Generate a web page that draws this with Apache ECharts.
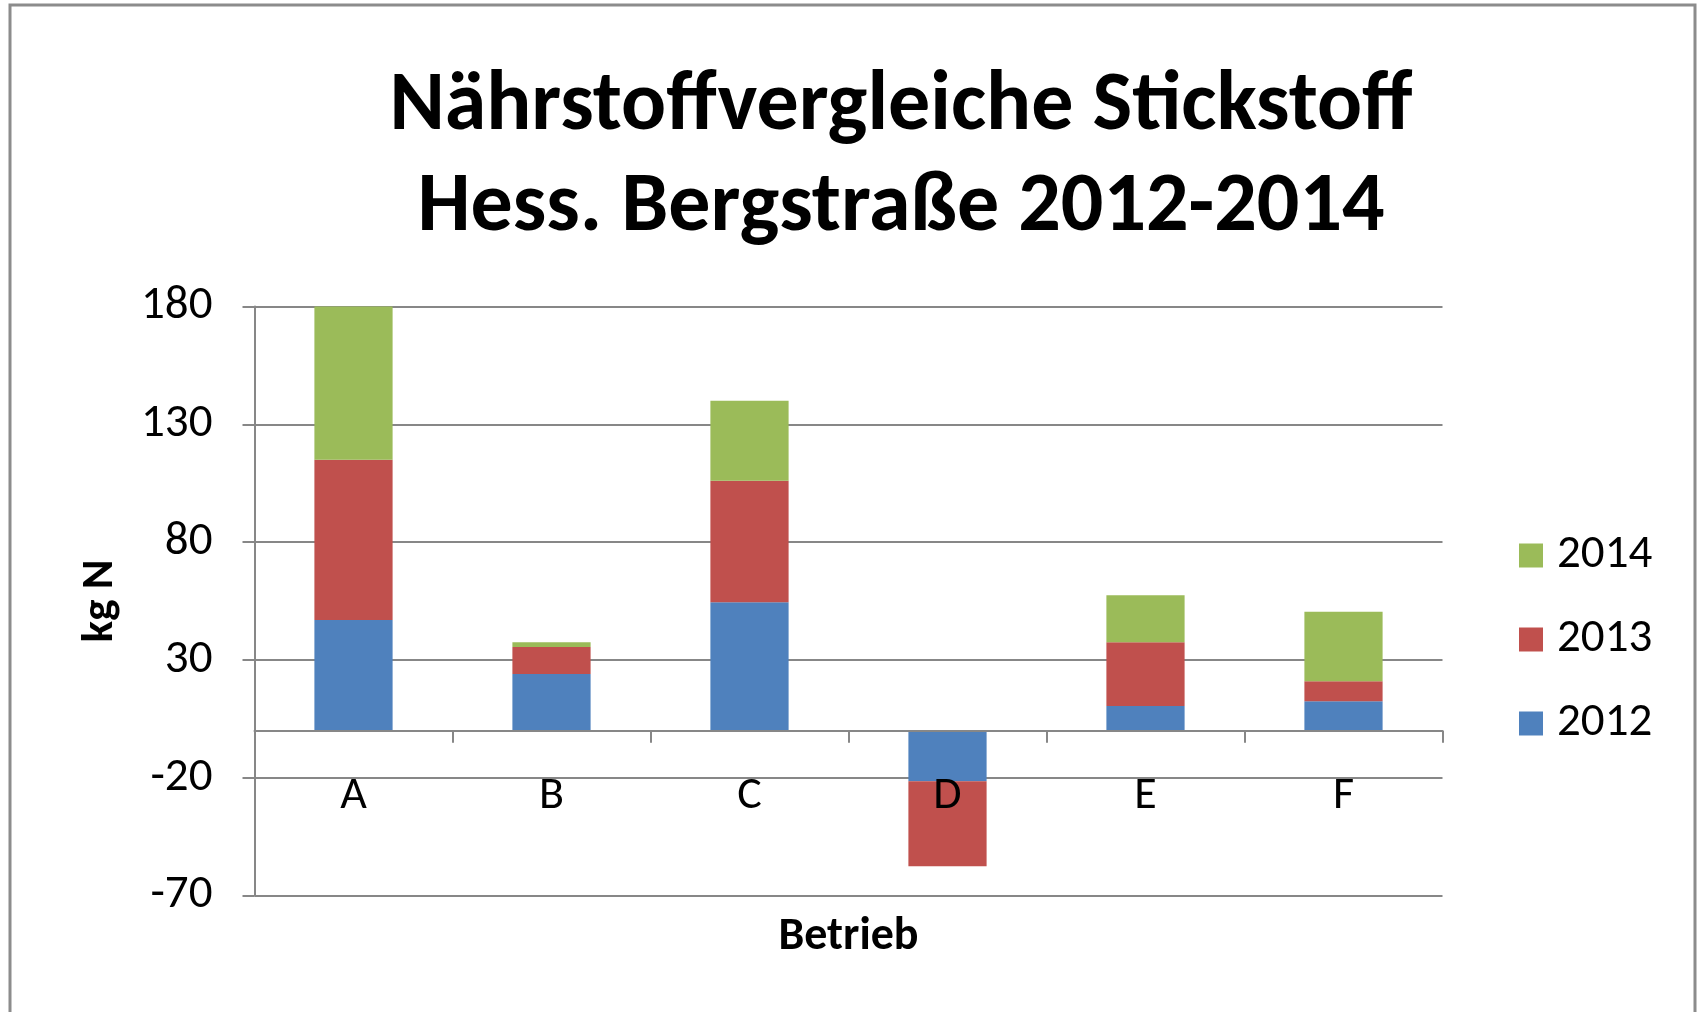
<!DOCTYPE html>
<html>
<head>
<meta charset="utf-8">
<script src="https://cdn.jsdelivr.net/npm/echarts@6/dist/echarts.min.js"></script>
<style>
  html, body { margin: 0; padding: 0; background: #fff; }
  #chart { width: 1698px; height: 1012px; }
</style>
</head>
<body>
<div id="chart"></div>
<script>
const categories = ['A', 'B', 'C', 'D', 'E', 'F']
const years = ['2012', '2013', '2014']
const v2012 = [47, 24, 54.5, -21.5, 10.5, 12.5]
const v2013 = [68, 11.5, 51.5, -36, 27, 8.5]
const v2014 = [65, 2, 34, 0, 20, 29.5]
const yMin = -70
const yMax = 180
const yStep = 50

const font = 'Carlito, Lato, sans-serif'
const colors = ['#4F81BD', '#C0504D', '#9BBB59']

const chart = echarts.init(document.getElementById('chart'))

const series = [v2012, v2013, v2014].map((vals, i) => ({
  name: years[i],
  type: 'bar',
  stack: 'total',
  data: vals,
  barWidth: '39.5%',
  itemStyle: { color: colors[i] }
}))

chart.setOption({
  backgroundColor: '#fff',
  animation: false,
  title: {
    text: 'Nährstoffvergleiche Stickstoff\nHess. Bergstraße 2012-2014',
    left: 896,
    top: 52,
    textAlign: 'center',
    textStyle: {
      fontFamily: font,
      fontWeight: 'bold',
      fontSize: 84,
      lineHeight: 101,
      color: '#000'
    }
  },
  legend: {
    orient: 'vertical',
    left: 1514,
    top: 527,
    data: ['2014', '2013', '2012'],
    icon: 'rect',
    itemWidth: 24,
    itemHeight: 24,
    itemGap: 37,
    textStyle: {
      fontFamily: font,
      fontSize: 47,
      lineHeight: 44,
      color: '#000',
      padding: [0, 0, 0, 9]
    }
  },
  grid: {
    left: 254.5,
    right: 255.5,
    top: 306.5,
    bottom: 116.4,
    containLabel: false,
    outerBoundsMode: 'none'
  },
  xAxis: {
    type: 'category',
    data: categories,
    z: 5,
    name: 'Betrieb',
    nameLocation: 'middle',
    nameGap: 19,
    nameTextStyle: { fontFamily: font, fontWeight: 'bold', fontSize: 46, color: '#000' },
    axisLine: { onZero: true, lineStyle: { color: '#878787', width: 2 } },
    axisTick: { show: true, length: 12, lineStyle: { color: '#878787', width: 2 } },
    axisLabel: { fontFamily: font, fontSize: 46, color: '#000', margin: -122 },
    splitLine: { show: false }
  },
  yAxis: {
    type: 'value',
    min: yMin,
    max: yMax,
    interval: yStep,
    name: 'kg N',
    nameLocation: 'middle',
    nameRotate: 90,
    nameGap: 131,
    nameTextStyle: { fontFamily: font, fontWeight: 'bold', fontSize: 45, color: '#000' },
    axisLine: { show: true, lineStyle: { color: '#878787', width: 2 } },
    axisTick: { show: true, length: 12, lineStyle: { color: '#878787', width: 2 } },
    axisLabel: { fontFamily: font, fontSize: 47, color: '#000', margin: 42 },
    splitLine: { show: true, lineStyle: { color: '#878787', width: 2 } }
  },
  graphic: [{
    type: 'rect',
    shape: { x: 10, y: 5, width: 1685, height: 1100 },
    style: { fill: 'none', stroke: '#8c8c8c', lineWidth: 3 },
    silent: true
  }],
  series: series
})
</script>
</body>
</html>
